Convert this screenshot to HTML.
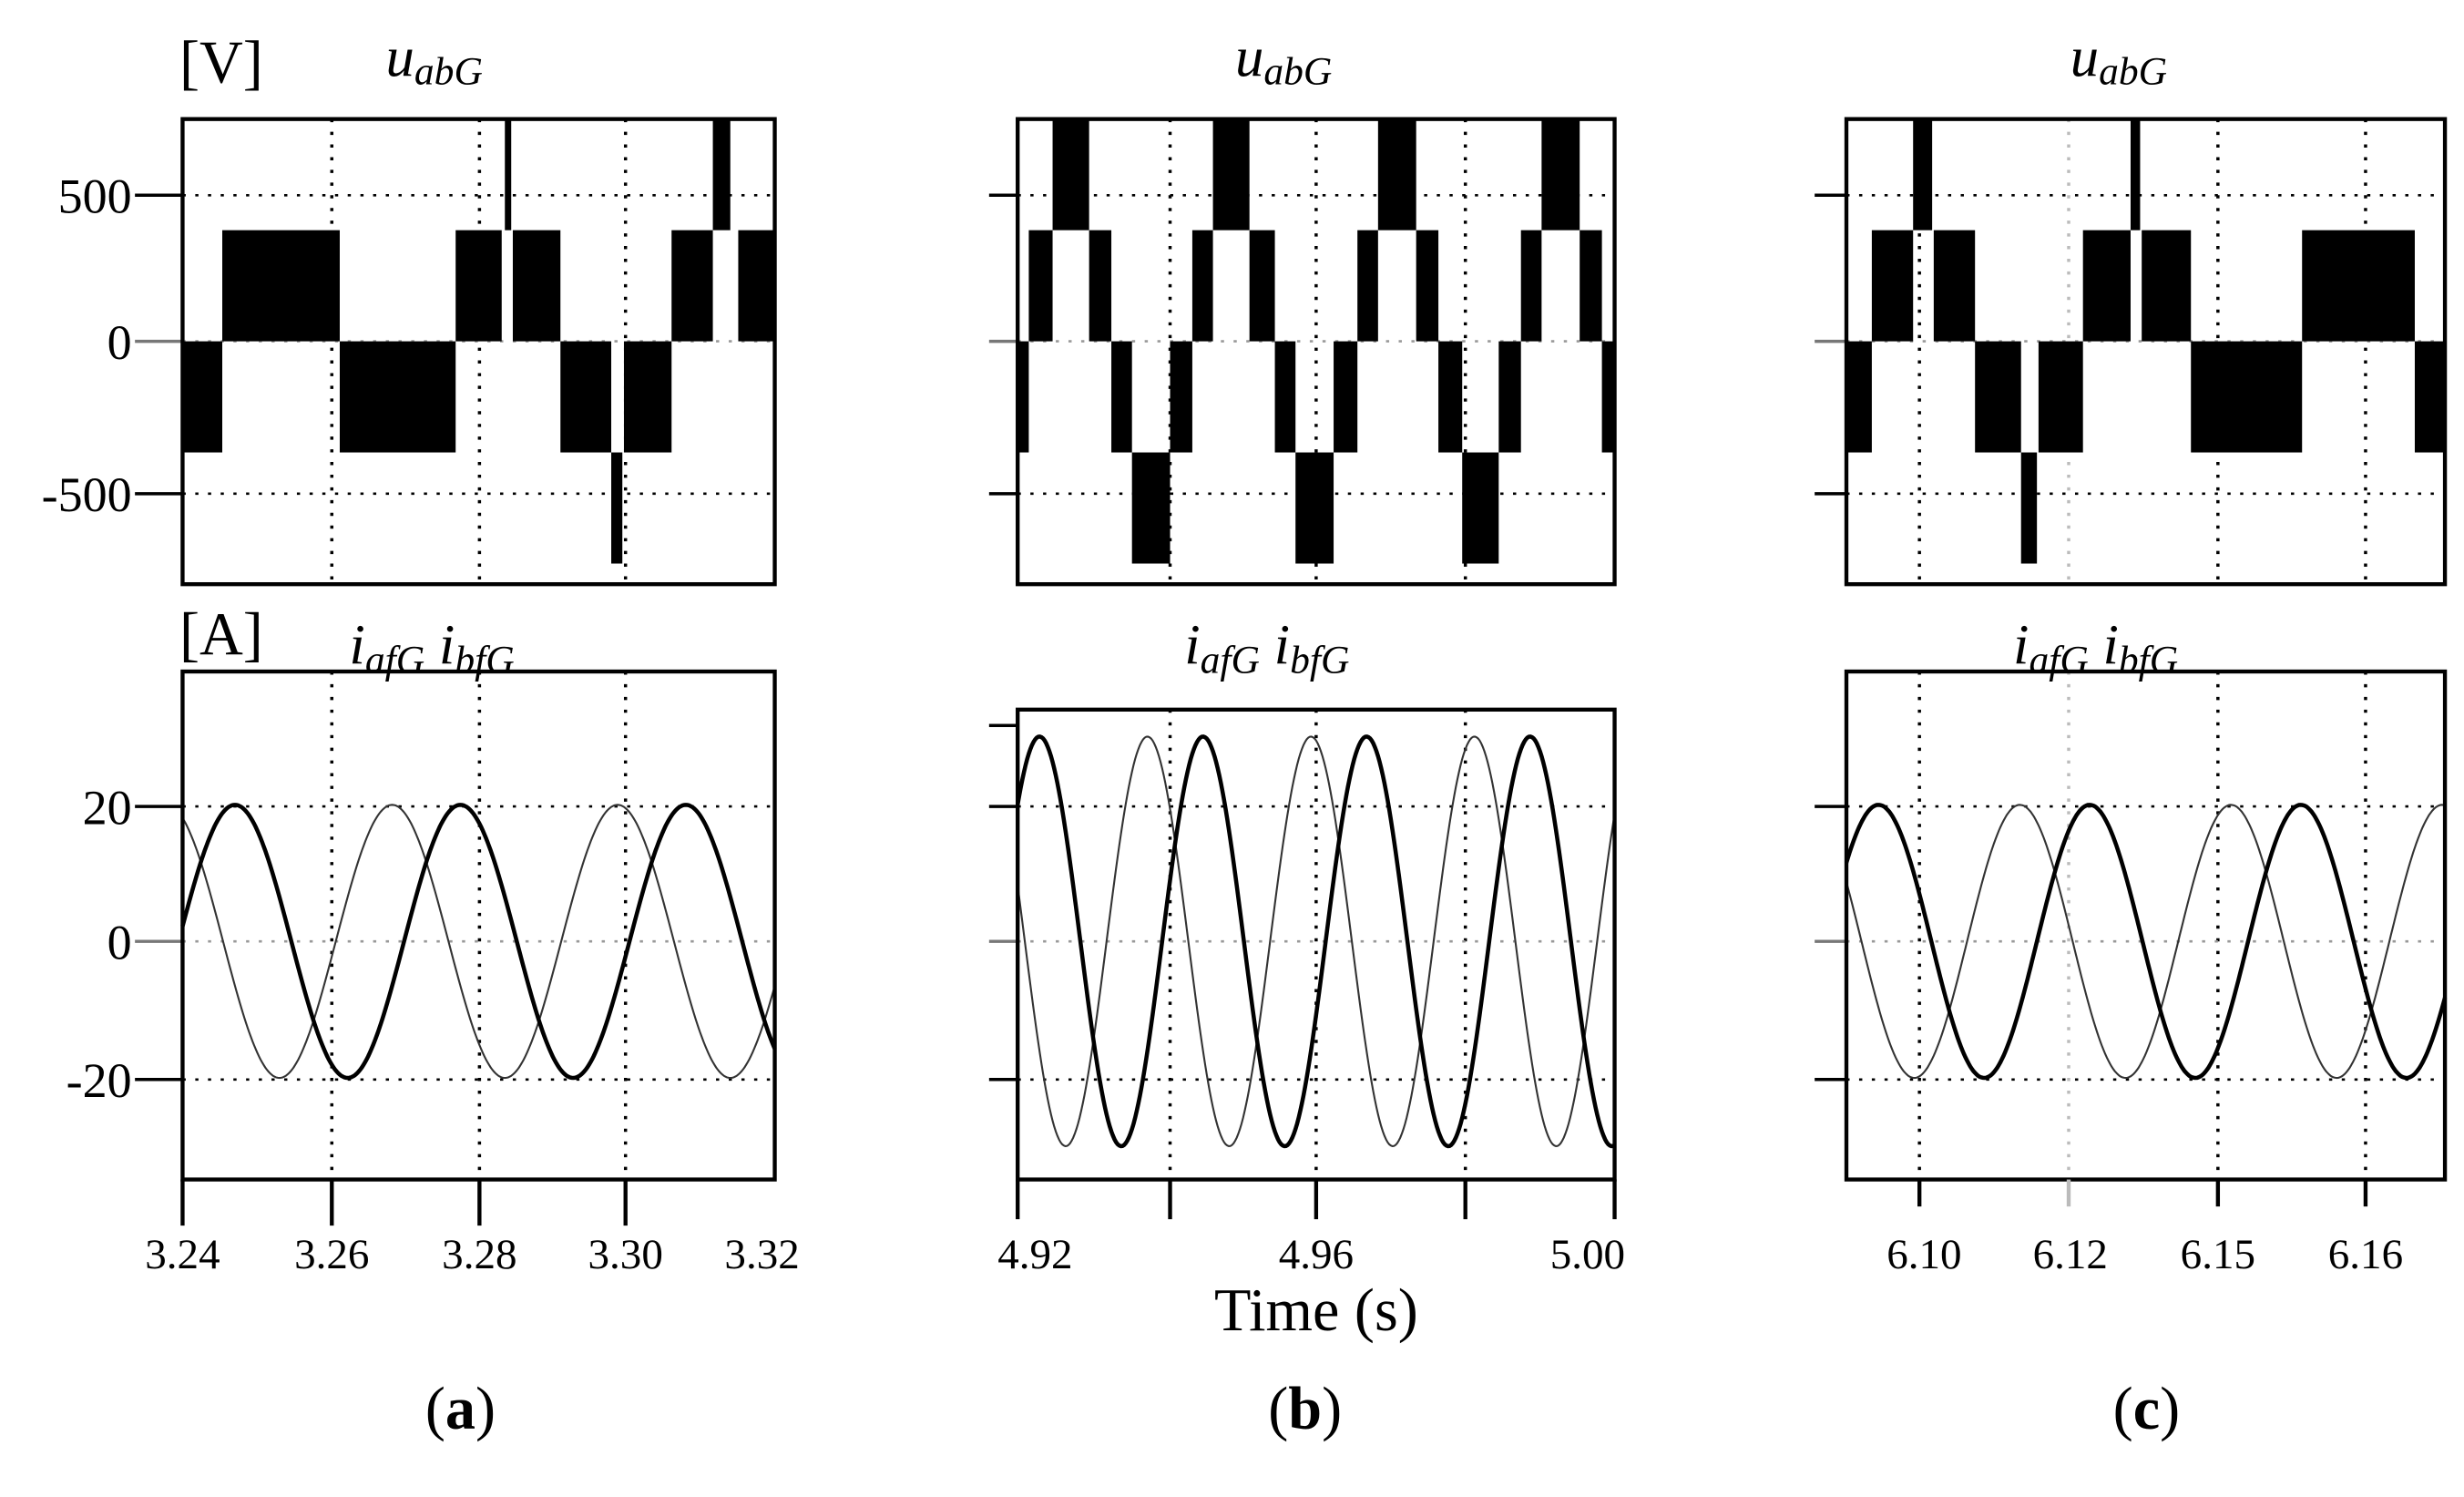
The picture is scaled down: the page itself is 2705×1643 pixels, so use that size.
<!DOCTYPE html>
<html><head><meta charset="utf-8"><style>
html,body{margin:0;padding:0;background:#fff;}
svg{display:block;}
text{font-family:"Liberation Serif",serif;fill:#000;}
</style></head><body>
<svg id="s" width="2705" height="1643" viewBox="0 0 1552 943" preserveAspectRatio="none" xmlns="http://www.w3.org/2000/svg">
<rect width="1552" height="943" fill="#fff"/>
<g id="g"></g>
<text x="113" y="52" font-size="38">[V]</text>
<text x="243" y="48" font-size="36" font-style="italic">u<tspan font-size="25" dy="5">abG</tspan></text>
<text x="778" y="48" font-size="36" font-style="italic">u<tspan font-size="25" dy="5">abG</tspan></text>
<text x="1304" y="48" font-size="36" font-style="italic">u<tspan font-size="25" dy="5">abG</tspan></text>
<text x="113" y="412" font-size="38">[A]</text>
<text x="220" y="418" font-size="36" font-style="italic">i<tspan font-size="25" dy="6">afG</tspan><tspan dy="-6"> i</tspan><tspan font-size="25" dy="6">bfG</tspan></text>
<text x="746" y="418" font-size="36" font-style="italic">i<tspan font-size="25" dy="6">afG</tspan><tspan dy="-6"> i</tspan><tspan font-size="25" dy="6">bfG</tspan></text>
<text x="1268" y="418" font-size="36" font-style="italic">i<tspan font-size="25" dy="6">afG</tspan><tspan dy="-6"> i</tspan><tspan font-size="25" dy="6">bfG</tspan></text>
<g font-size="31" text-anchor="end">
<text x="83" y="134">500</text><text x="83" y="226">0</text><text x="83" y="322">-500</text>
<text x="83" y="519">20</text><text x="83" y="604">0</text><text x="83" y="691">-20</text>
</g>
<g font-size="27" text-anchor="middle">
<text x="115" y="799">3.24</text><text x="209" y="799">3.26</text><text x="302" y="799">3.28</text><text x="394" y="799">3.30</text><text x="480" y="799">3.32</text>
<text x="652" y="799">4.92</text><text x="829" y="799">4.96</text><text x="1000" y="799">5.00</text>
<text x="1212" y="799">6.10</text><text x="1304" y="799">6.12</text><text x="1397" y="799">6.15</text><text x="1490" y="799">6.16</text>
</g>
<text x="829" y="838" font-size="38" text-anchor="middle">Time (s)</text>
<g font-size="38" text-anchor="middle">
<text x="290" y="900">(<tspan font-weight="bold">a</tspan>)</text>
<text x="822" y="900">(<tspan font-weight="bold">b</tspan>)</text>
<text x="1352" y="900">(<tspan font-weight="bold">c</tspan>)</text>
</g>
</svg>
<script>
var g=document.getElementById('g'),NS='http://www.w3.org/2000/svg';
function el(t,a){var e=document.createElementNS(NS,t);for(var k in a)e.setAttribute(k,a[k]);g.appendChild(e);return e;}
function line(x1,y1,x2,y2,w,c,d){var a={x1:x1,y1:y1,x2:x2,y2:y2,stroke:c||'#000','stroke-width':w||1.5};if(d)a['stroke-dasharray']=d;el('line',a);}
function panel(L,R,T,B,vg,hg,ticks,tickL,grayV){
  vg.forEach(function(x){line(x,T,x,B,2,(grayV&&grayV.indexOf(x)>=0)?'#bbb':'#000','2,6');});
  hg.forEach(function(y){line(L,y,R,y,1.5,(y==215||y==593)?'#999':'#000','2,6');});
  ticks.forEach(function(y){line(tickL,y,L,y,2,(y==215||y==593)?'#777':'#000');});
}
function box(L,R,T,B){el('rect',{x:L,y:T,width:R-L,height:B-T,fill:'none',stroke:'#000','stroke-width':2.5});}
function blocks(list){list.forEach(function(b){var y1,y2,l=b[2];
 if(l==375){y1=145;y2=215;}else if(l==-375){y1=215;y2=285;}else if(l==750){y1=76;y2=145;}else{y1=285;y2=355;}
 el('rect',{x:b[0],y:y1,width:b[1]-b[0],height:y2-y1,fill:'#000'});});}
function sine(L,R,x0,P,A,w,c){var d='';for(var x=L;x<=R;x+=1){var y=593-A*Math.sin(2*Math.PI*(x-x0)/P);d+=(x==L?'M':'L')+x+','+y.toFixed(1);}
 el('path',{d:d,fill:'none',stroke:c,'stroke-width':w});}
panel(115,488,75,368,[209,302,394],[123,215,311],[123,215,311],85);
blocks([[115,140,-375],[140,214,375],[214,287,-375],[287,316,375],[318,322,750],[323,353,375],[353,385,-375],[385,392,-750],[393,423,-375],[423,449,375],[449,460,750],[465,488,375]]);
box(115,488,75,368);
panel(115,488,423,743,[209,302,394],[508,593,680],[508,593,680],85);
sine(115,488,211.5,142,86,1.2,'#333');
sine(115,488,112.5,142,86,2.6,'#000');
box(115,488,423,743);
[115,209,302,394].forEach(function(x){line(x,743,x,772,2.5);});
panel(641,1017,75,368,[737,829,923],[123,215,311],[123,215,311],623);
blocks([[641,648,-375],[648,663,375],[663,686,750],[686,700,375],[700,713,-375],[713,737,-750],[737,751,-375],[751,764,375],[764,787,750],[787,803,375],[803,816,-375],[816,840,-750],[840,855,-375],[855,868,375],[868,892,750],[892,906,375],[906,921,-375],[921,944,-750],[944,958,-375],[958,971,375],[971,995,750],[995,1009,375],[1009,1017,-375]]);
box(641,1017,75,368);
panel(641,1017,447,743,[737,829,923],[508,593,680],[457,508,593,680],623);
sine(641,1017,697,103,129,1.2,'#333');
sine(641,1017,629,103,129,2.6,'#000');
box(641,1017,447,743);
[641,737,829,923,1017].forEach(function(x){line(x,743,x,768,2.5);});
panel(1163,1540,75,368,[1209,1303,1397,1490],[123,215,311],[123,215,311],1143,[1303]);
blocks([[1163,1179,-375],[1179,1205,375],[1205,1217,750],[1218,1244,375],[1244,1273,-375],[1273,1283,-750],[1284,1312,-375],[1312,1342,375],[1342,1348,750],[1349,1380,375],[1380,1450,-375],[1450,1521,375],[1521,1540,-375]]);
box(1163,1540,75,368);
panel(1163,1540,423,743,[1209,1303,1397,1490],[508,593,680],[508,593,680],1143,[1303]);
sine(1163,1540,1239,133,86,1.2,'#333');
sine(1163,1540,1150,133,86,2.6,'#000');
box(1163,1540,423,743);
[1209,1303,1397,1490].forEach(function(x){line(x,743,x,760,2.5,x==1303?'#bbb':'#000');});
</script>
</body></html>
